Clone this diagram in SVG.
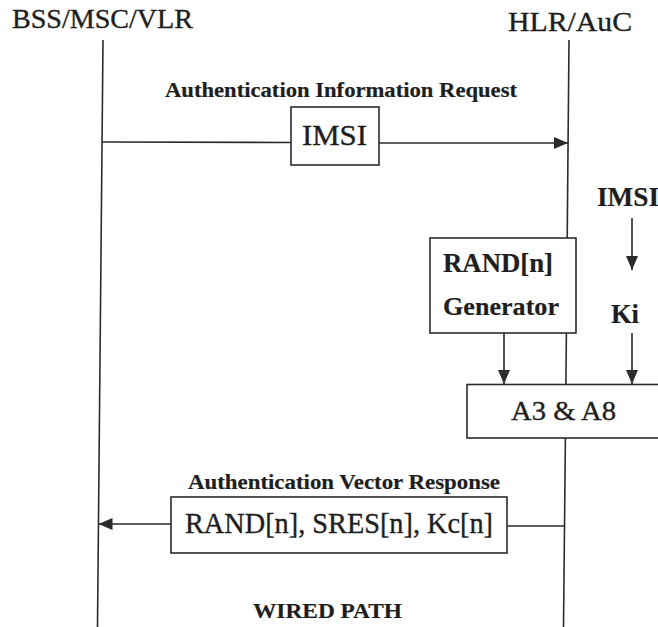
<svg xmlns="http://www.w3.org/2000/svg" width="658" height="627" viewBox="0 0 658 627">
  <style>
    .ln { stroke: #2b2b2b; stroke-width: 1.6; fill: none; }
    .bx { stroke: #2b2b2b; stroke-width: 1.6; fill: #ffffff; }
    .t { font-family: "Liberation Serif", "Times New Roman", serif; fill: #1e1e1e; stroke: #1e1e1e; stroke-width: 0.35; }
    .b { font-weight: bold; stroke-width: 0.2; }
  </style>
  <defs>
    <marker id="ah" markerUnits="userSpaceOnUse" markerWidth="15" markerHeight="13" refX="14" refY="6.5" orient="auto">
      <path d="M0,0.5 L14,6.5 L0,12.5 z" fill="#2b2b2b"/>
    </marker>
  </defs>
  <rect width="658" height="627" fill="#ffffff"/>

  <g id="lifelines">
    <line class="ln" x1="103" y1="40" x2="97.5" y2="627"/>
    <line class="ln" x1="569" y1="40" x2="567.2" y2="238"/>
    <line class="ln" x1="566.4" y1="333" x2="565.9" y2="384"/>
    <line class="ln" x1="565.4" y1="438" x2="563.5" y2="627"/>
  </g>

  <g id="connectors">
    <line class="ln" x1="102" y1="142" x2="291" y2="142.5"/>
    <line class="ln" x1="379" y1="143" x2="568" y2="143" marker-end="url(#ah)"/>
    <line class="ln" x1="632" y1="218" x2="632" y2="270" marker-end="url(#ah)"/>
    <line class="ln" x1="504" y1="333" x2="504" y2="384" marker-end="url(#ah)"/>
    <line class="ln" x1="632" y1="333" x2="632" y2="384" marker-end="url(#ah)"/>
    <line class="ln" x1="564.3" y1="526" x2="507" y2="526"/>
    <line class="ln" x1="171" y1="524" x2="98.5" y2="524" marker-end="url(#ah)"/>
  </g>

  <g id="bss-msc-vlr">
    <text class="t" x="12" y="28" font-size="27" textLength="181" lengthAdjust="spacingAndGlyphs">BSS/MSC/VLR</text>
  </g>
  <g id="hlr-auc">
    <text class="t" x="508" y="31" font-size="27" textLength="124" lengthAdjust="spacingAndGlyphs">HLR/AuC</text>
  </g>

  <g id="auth-info-request">
    <text class="t b" x="165" y="97" font-size="21" textLength="352" lengthAdjust="spacingAndGlyphs">Authentication Information Request</text>
    <rect class="bx" x="291" y="107" width="88" height="58"/>
    <text class="t" x="302" y="145" font-size="29" textLength="65" lengthAdjust="spacingAndGlyphs">IMSI</text>
  </g>

  <g id="imsi-input">
    <text class="t b" x="597" y="206" font-size="27" textLength="62" lengthAdjust="spacingAndGlyphs">IMSI</text>
  </g>

  <g id="rand-generator">
    <rect class="bx" x="430" y="238" width="146" height="95"/>
    <text class="t b" x="443" y="272" font-size="27" textLength="110" lengthAdjust="spacingAndGlyphs">RAND[n]</text>
    <text class="t b" x="443" y="315" font-size="25" textLength="116" lengthAdjust="spacingAndGlyphs">Generator</text>
  </g>

  <g id="ki">
    <text class="t b" x="611" y="323" font-size="27" textLength="28" lengthAdjust="spacingAndGlyphs">Ki</text>
  </g>

  <g id="a3-a8">
    <rect class="bx" x="467" y="384.5" width="200" height="53.5"/>
    <text class="t" x="511" y="420" font-size="27" textLength="105" lengthAdjust="spacingAndGlyphs">A3 &amp; A8</text>
  </g>

  <g id="auth-vector-response">
    <text class="t b" x="188" y="489" font-size="21" textLength="312" lengthAdjust="spacingAndGlyphs">Authentication Vector Response</text>
    <rect class="bx" x="171" y="497" width="336" height="56"/>
    <text class="t" x="185" y="533" font-size="29" textLength="308" lengthAdjust="spacingAndGlyphs">RAND[n], SRES[n], Kc[n]</text>
  </g>

  <g id="wired-path">
    <text class="t b" x="253" y="618" font-size="22" textLength="149" lengthAdjust="spacingAndGlyphs">WIRED PATH</text>
  </g>
</svg>
